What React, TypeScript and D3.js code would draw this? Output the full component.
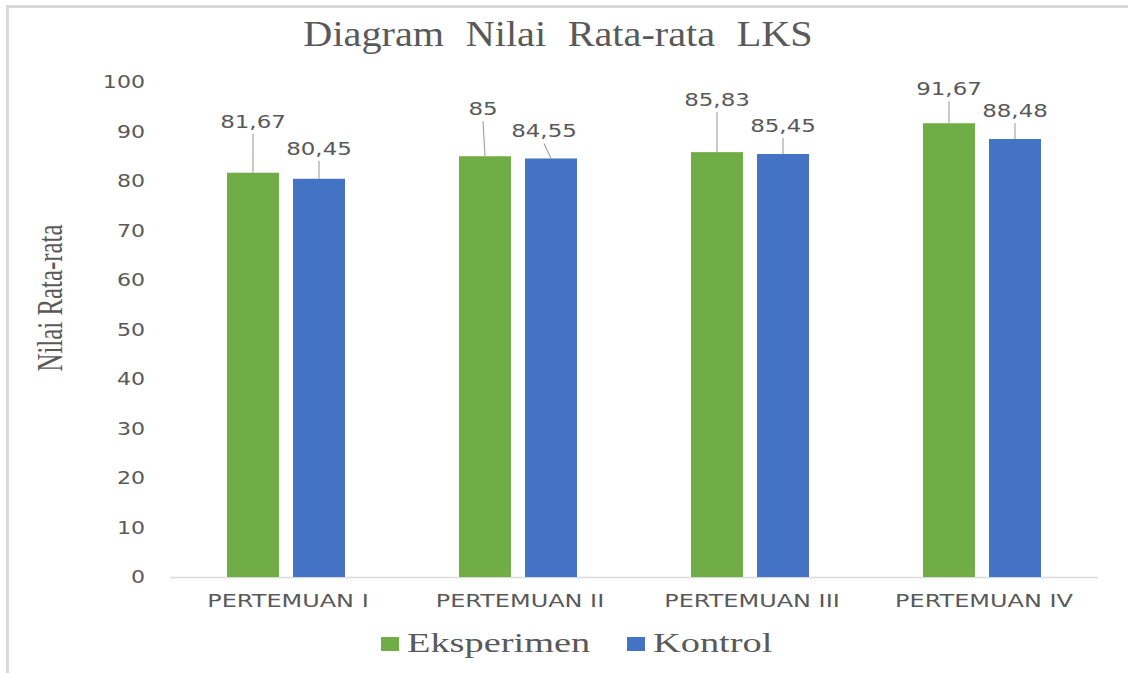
import React from "react";
import * as d3 from "d3";

const categories = ["PERTEMUAN I", "PERTEMUAN II", "PERTEMUAN III", "PERTEMUAN IV"];
const seriesNames = ["Eksperimen", "Kontrol"];
const eksperimen = [81.67, 85, 85.83, 91.67];
const kontrol = [80.45, 84.55, 85.45, 88.48];
const valueLabelsEksperimen = ["81,67", "85", "85,83", "91,67"];
const valueLabelsKontrol = ["80,45", "84,55", "85,45", "88,48"];
const yTicks = [0, 10, 20, 30, 40, 50, 60, 70, 80, 90, 100];

// label callout layout (pixels above bar top / horizontal shift)
const labelDyEks = [45, 41, 46, 28];
const labelDyKon = [24, 21, 22, 22];
const labelDxEks = [0, -2, 0, 0];
const labelDxKon = [0, -7, 0, 0];

const W = 1128;
const H = 673;
const colors = ["#70ad47", "#4472c4"];
const textColor = "#595959";
const sans = "'DejaVu Sans', Verdana, sans-serif";
const serif = "'Liberation Serif', 'Times New Roman', serif";

function SText(props: any) {
  const { x, y, sx = 1, anchor = "middle", size, family, children, fill = textColor, rotate, textLength, wordSpacing } = props;
  const t = `translate(${x},${y}) scale(${sx},1)` + (rotate ? ` rotate(${rotate})` : "");
  return (
    <text
      transform={t}
      textAnchor={anchor}
      fontSize={size}
      fontFamily={family}
      fill={fill}
      textLength={textLength}
      lengthAdjust={textLength ? "spacingAndGlyphs" : undefined}
      style={wordSpacing ? { wordSpacing: `${wordSpacing}px` } : undefined}
    >
      {children}
    </text>
  );
}

export default function App() {
  const y = d3.scaleLinear().domain([0, 100]).range([577, 82]);
  const x0 = d3.scaleBand().domain(categories).range([170, 1098]).padding(0);
  const groupW = 118;
  const x1 = d3.scaleBand().domain(seriesNames).range([0, groupW]).paddingInner(0.2121).paddingOuter(0);
  const groupOffset = (x0.bandwidth() - groupW) / 2;
  const series = [eksperimen, kontrol];
  const labels = [valueLabelsEksperimen, valueLabelsKontrol];
  const dys = [labelDyEks, labelDyKon];
  const dxs = [labelDxEks, labelDxKon];

  return (
    <svg width={W} height={H} style={{ position: "absolute", left: 0, top: 0, background: "#fff" }}>
      <rect x={0} y={0} width={W} height={H} fill="#fff" />
      {/* frame */}
      <line x1={6} x2={W} y1={6.5} y2={6.5} stroke="#d9d9d9" strokeWidth={3} />
      <line x1={7.5} x2={7.5} y1={5} y2={H} stroke="#d9d9d9" strokeWidth={3} />

      {/* title */}
      <SText x={558} y={46} sx={1.15} size={35} family={serif} wordSpacing={10}>
        Diagram Nilai Rata-rata LKS
      </SText>

      {/* y axis label */}
      <SText x={62} y={298} sx={1.4} size={26} family={serif} rotate={-90} textLength={147}>
        Nilai Rata-rata
      </SText>

      {/* y ticks */}
      {yTicks.map((t) => (
        <SText key={t} x={145} y={y(t) + 6.3} sx={1.3} anchor="end" size={17} family={sans}>
          {String(t)}
        </SText>
      ))}

      {/* baseline */}
      <line x1={170} x2={1098} y1={y(0) + 0.5} y2={y(0) + 0.5} stroke="#d9d9d9" strokeWidth={1.5} />

      {/* bars */}
      {categories.map((c, i) => (
        <g key={c}>
          {seriesNames.map((s, j) => {
            const bx = (x0(c) as number) + groupOffset + (x1(s) as number);
            const bw = x1.bandwidth();
            const v = series[j][i];
            const top = y(v);
            const cx = bx + bw / 2;
            const lx = cx + dxs[j][i];
            const ly = top - dys[j][i];
            return (
              <g key={s}>
                <rect x={bx} y={top} width={bw} height={y(0) - top} fill={colors[j]} />
                <line x1={lx} y1={ly + 6} x2={cx} y2={top} stroke="#a6a6a6" strokeWidth={1.2} />
                <SText x={lx} y={ly} sx={1.35} size={17} family={sans}>
                  {labels[j][i]}
                </SText>
              </g>
            );
          })}
          <SText x={(x0(c) as number) + x0.bandwidth() / 2 + 2} y={607} sx={1.41} size={17} family={sans}>
            {c}
          </SText>
        </g>
      ))}

      {/* legend */}
      <rect x={381} y={637} width={18} height={14} fill={colors[0]} />
      <SText x={407} y={652} sx={1.37} anchor="start" size={28} family={serif}>
        {seriesNames[0]}
      </SText>
      <rect x={627} y={637} width={18} height={14} fill={colors[1]} />
      <SText x={653} y={652} sx={1.37} anchor="start" size={28} family={serif}>
        {seriesNames[1]}
      </SText>
    </svg>
  );
}
